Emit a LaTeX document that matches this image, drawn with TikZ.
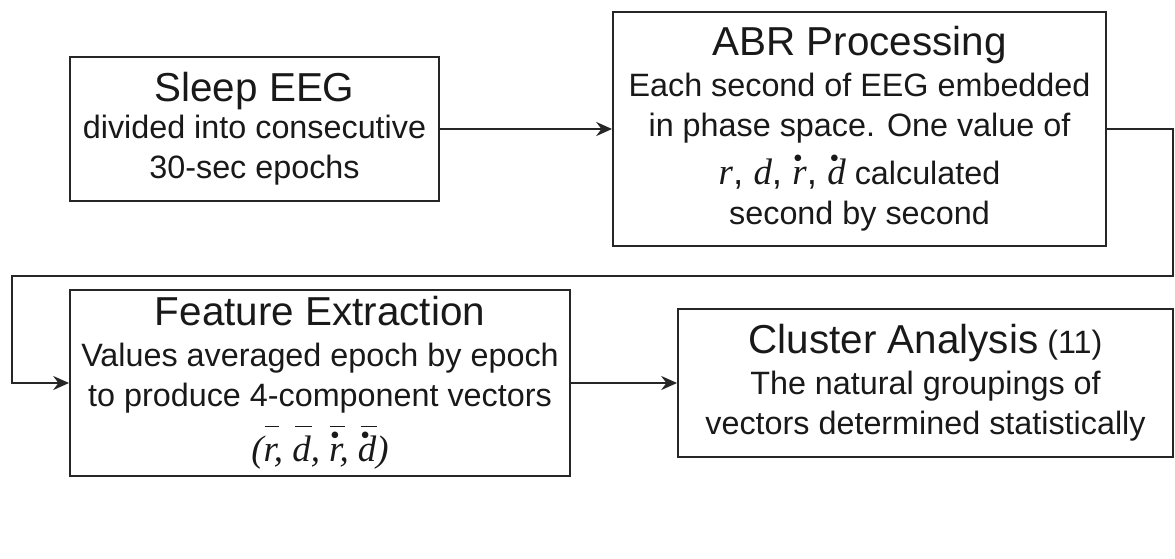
\documentclass[tikz,border=0pt]{standalone}
\usepackage{fontspec}
\usepackage{graphicx}
\setmainfont{Liberation Sans}
\newfontfamily\tms{Liberation Serif}
\usetikzlibrary{arrows.meta}
\newcommand\vr{{\tms\itshape r}}
\newcommand\vd{{\tms\itshape d}}
% dot at fixed height above the letter, shifted by #1
\newcommand\mydot[2]{\leavevmode\rlap{\kern#1\raisebox{0.45em}{\scalebox{0.75}{\tms\textbullet}}}#2}
% bar at fixed height above the letter
\newcommand\mybar[3]{\leavevmode\rlap{\kern#1\rule[0.93em]{#2}{0.9pt}}#3}
\newcommand\ttl{\fontsize{23}{30}\selectfont}
\begin{document}
\begin{tikzpicture}[x=0.02cm,y=-0.02cm,
  box/.style={draw=black!85, line width=1.1pt, align=center, inner sep=0pt,
    font=\fontsize{18.4}{23}\selectfont, text=black!90},
  arr/.style={draw=black!85, line width=1.1pt, -{Stealth[length=9pt,width=8pt]}}]
\useasboundingbox (0,0) rectangle (1175,558);
\node[box, minimum width=369*0.02cm, minimum height=144*0.02cm] (sleep) at (254.5,129)
  {{\ttl Sleep EEG}\\[-2pt]divided into consecutive\\30-sec epochs};
\node[box, minimum width=493*0.02cm, minimum height=234*0.02cm] (abr) at (859.5,129)
  {{\ttl ABR Processing}\\Each second of EEG embedded\\in phase space. One value of\\[4pt]
   {\fontsize{21}{23}\selectfont\vr, \vd, \mydot{0.02em}{\vr}, \mydot{0.06em}{\vd}} calculated\\second by second};
\node[box, minimum width=500*0.02cm, minimum height=186*0.02cm] (feat) at (320,383)
  {{\ttl Feature Extraction}\\Values averaged epoch by epoch\\to produce 4-component vectors\\[6pt]
   {\fontsize{21}{23}\selectfont\tms\itshape (\mybar{0.03em}{0.4em}{\vr}, \mybar{0.08em}{0.45em}{\vd}, \mybar{0.03em}{0.4em}{\mydot{0.02em}{\vr}}, \mybar{0.08em}{0.45em}{\mydot{0.06em}{\vd}})}};
\node[box, minimum width=495*0.02cm, minimum height=148*0.02cm] (clus) at (925.5,383)
  {{\ttl Cluster Analysis} (11)\\The natural groupings of\\vectors determined statistically};
\coordinate (c2) at (1173,276);
\coordinate (c3) at (12,276);
\draw[arr] (sleep.east) -- (abr.west);
\draw[arr] (abr.east) -| (c2) -- (c3) |- (feat.west);
\draw[arr] (feat.east) -- (clus.west);
\end{tikzpicture}
\end{document}
